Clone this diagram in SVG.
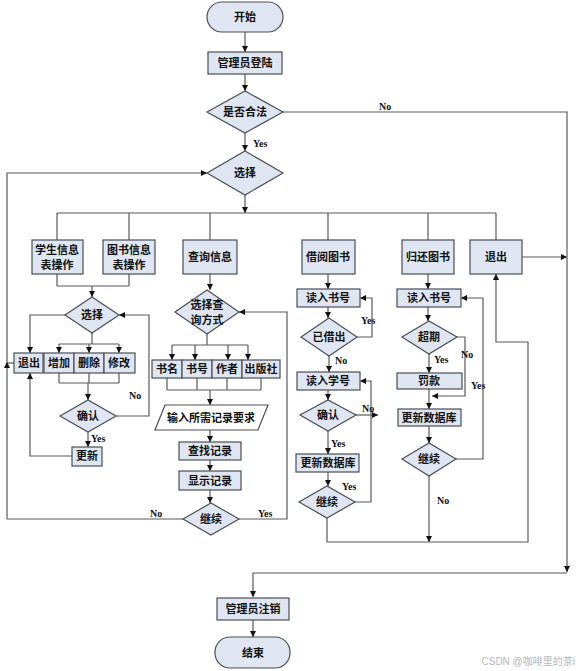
<svg xmlns="http://www.w3.org/2000/svg" width="581" height="671" viewBox="0 0 581 671">
<defs>
<marker id="ah" markerWidth="6" markerHeight="6" refX="6" refY="3" orient="auto" markerUnits="userSpaceOnUse">
<path d="M0,0 L6,3 L0,6 z" fill="#111"/>
</marker>
<style>
.b{fill:#dfe6f1;stroke:#4a4f58;stroke-width:1.2}
.p{fill:#fff;stroke:#4a4f58;stroke-width:1.2}
.t{font-family:"Liberation Serif","Noto Sans CJK SC",serif;font-size:11px;font-weight:bold;fill:#111;text-anchor:middle;dominant-baseline:central}
.l{font-family:"Liberation Serif",serif;font-size:10px;font-weight:bold;fill:#111}
.c path{fill:none;stroke:#5a5a5a;stroke-width:1.2}
.c .a{marker-end:url(#ah)}
</style>
</defs>
<rect width="581" height="671" fill="#fff"/>

<g class="c" id="connectors">
<path class="a" d="M245,32 V52"/>
<path class="a" d="M245,74 V91"/>
<path class="a" d="M245,133 V151"/>
<path class="a" d="M245,195 V213"/>
<path d="M57,213 H496"/>
<path d="M57,213 V240 M129,213 V240 M210,213 V240 M328,213 V240 M428,213 V240 M496,213 V240"/>
<!-- left subflow -->
<path d="M57,274 V286 M129,274 V286 M57,286 H129"/>
<path class="a" d="M92,286 V297"/>
<path class="a" d="M65,315 H30 V353"/>
<path d="M92,333 V344 M59,344 H119"/>
<path class="a" d="M59,344 V353"/>
<path class="a" d="M89,344 V353"/>
<path class="a" d="M119,344 V353"/>
<path d="M59,373 V383 M89,373 V383 M119,373 V383 M59,383 H119"/>
<path class="a" d="M88,383 V400"/>
<path class="a" d="M116,416 H149 V315 H119"/>
<path class="a" d="M88,432 V447"/>
<path class="a" d="M72,456 H30 V373"/>
<path d="M14,363 H7"/>
<path class="a" d="M183,519 H7 V362"/>
<path class="a" d="M7,363 V173 H207"/>
<!-- query -->
<path class="a" d="M210,274 V290"/>
<path d="M207,334 V345 M172,345 H248"/>
<path class="a" d="M172,345 V360"/>
<path class="a" d="M195,345 V360"/>
<path class="a" d="M228,345 V360"/>
<path class="a" d="M248,345 V360"/>
<path d="M167,378 V390 M197,378 V390 M227,378 V390 M261,378 V390 M167,390 H261"/>
<path class="a" d="M210,390 V405"/>
<path class="a" d="M210,430 V442"/>
<path class="a" d="M210,460 V471"/>
<path class="a" d="M210,490 V503"/>
<path class="a" d="M239,519 H287 V312 H239"/>
<!-- borrow -->
<path class="a" d="M328,274 V289"/>
<path class="a" d="M328,307 V318"/>
<path class="a" d="M357,337 H372 V298 H360"/>
<path class="a" d="M329,356 V372"/>
<path class="a" d="M328,390 V400"/>
<path class="a" d="M356,415 H378"/>
<path class="a" d="M355,502 H371 V381 H360"/>
<path class="a" d="M328,431 V454"/>
<path class="a" d="M328,472 V486"/>
<path class="a" d="M327,518 V542 H528 V342 H496 V274"/>
<!-- return -->
<path class="a" d="M428,274 V289"/>
<path class="a" d="M428,307 V321"/>
<path class="a" d="M457,337 H465 V396 H432"/>
<path class="a" d="M429,354 V373"/>
<path class="a" d="M429,389 V409"/>
<path class="a" d="M429,426 V443"/>
<path class="a" d="M456,459 H483 V298 H461"/>
<path class="a" d="M429,476 V542"/>
<!-- exit / end -->
<path class="a" d="M522,257 H567"/>
<path class="a" d="M283,112 H567 V572"/>
<path class="a" d="M567,573 H253 V597"/>
<path class="a" d="M253,620 V637"/>
</g>

<g id="labels">
<text class="l" x="253" y="147">Yes</text>
<text class="l" x="379" y="110">No</text>
<text class="l" x="129" y="399">No</text>
<text class="l" x="91" y="442">Yes</text>
<text class="l" x="150" y="517">No</text>
<text class="l" x="258" y="517">Yes</text>
<text class="l" x="361" y="324">Yes</text>
<text class="l" x="335" y="364">No</text>
<text class="l" x="362" y="412">No</text>
<text class="l" x="331" y="447">Yes</text>
<text class="l" x="342" y="490">Yes</text>
<text class="l" x="434" y="363">Yes</text>
<text class="l" x="461" y="358">No</text>
<text class="l" x="471" y="389">Yes</text>
<text class="l" x="437" y="504">No</text>
</g>

<g id="start"><rect class="b" x="207" y="2" width="76" height="30" rx="15"/><text class="t" x="245" y="17">开始</text></g>
<g id="login"><rect class="b" x="208" y="52" width="74" height="22"/><text class="t" x="245" y="63">管理员登陆</text></g>
<g id="legal"><polygon class="b" points="207,112 245,91 283,112 245,133"/><text class="t" x="245" y="112">是否合法</text></g>
<g id="select"><polygon class="b" points="207,173 245,151 283,173 245,195"/><text class="t" x="245" y="173">选择</text></g>

<g id="student"><rect class="b" x="32" y="240" width="51" height="34"/><text class="t" x="57" y="250">学生信息</text><text class="t" x="57" y="265">表操作</text></g>
<g id="bookinfo"><rect class="b" x="103" y="240" width="52" height="34"/><text class="t" x="129" y="250">图书信息</text><text class="t" x="129" y="265">表操作</text></g>
<g id="sel2"><polygon class="b" points="65,315 92,297 119,315 92,333"/><text class="t" x="92" y="315">选择</text></g>
<g id="exit2"><rect class="b" x="14" y="353" width="29" height="20"/><text class="t" x="29" y="363">退出</text></g>
<g id="add"><rect class="b" x="44" y="353" width="30" height="20"/><text class="t" x="59" y="363">增加</text></g>
<g id="del"><rect class="b" x="74" y="353" width="30" height="20"/><text class="t" x="89" y="363">删除</text></g>
<g id="mod"><rect class="b" x="104" y="353" width="31" height="20"/><text class="t" x="119" y="363">修改</text></g>
<g id="confirm1"><polygon class="b" points="60,416 88,400 116,416 88,432"/><text class="t" x="88" y="416">确认</text></g>
<g id="update1"><rect class="b" x="72" y="447" width="30" height="19"/><text class="t" x="87" y="456">更新</text></g>

<g id="query"><rect class="b" x="183" y="240" width="54" height="34"/><text class="t" x="210" y="257">查询信息</text></g>
<g id="qmode"><polygon class="b" points="175,312 207,290 239,312 207,334"/><text class="t" x="207" y="305">选择查</text><text class="t" x="207" y="320">询方式</text></g>
<g id="bname"><rect class="b" x="152" y="360" width="30" height="18"/><text class="t" x="167" y="369">书名</text></g>
<g id="bno"><rect class="b" x="182" y="360" width="30" height="18"/><text class="t" x="197" y="369">书号</text></g>
<g id="author"><rect class="b" x="212" y="360" width="30" height="18"/><text class="t" x="227" y="369">作者</text></g>
<g id="pub"><rect class="b" x="242" y="360" width="38" height="18"/><text class="t" x="261" y="369">出版社</text></g>
<g id="input"><polygon class="p" points="165,405 268,405 258,430 155,430"/><text class="t" x="211" y="418">输入所需记录要求</text></g>
<g id="find"><rect class="b" x="179" y="442" width="62" height="18"/><text class="t" x="210" y="451">查找记录</text></g>
<g id="show"><rect class="b" x="179" y="471" width="62" height="19"/><text class="t" x="210" y="481">显示记录</text></g>
<g id="cont1"><polygon class="b" points="183,519 211,503 239,519 211,535"/><text class="t" x="211" y="519">继续</text></g>

<g id="borrow"><rect class="b" x="302" y="240" width="53" height="34"/><text class="t" x="328" y="257">借阅图书</text></g>
<g id="readbook1"><rect class="b" x="297" y="289" width="63" height="18"/><text class="t" x="328" y="298">读入书号</text></g>
<g id="lent"><polygon class="b" points="301,337 329,318 357,337 329,356"/><text class="t" x="329" y="337">已借出</text></g>
<g id="readstu"><rect class="b" x="297" y="372" width="63" height="18"/><text class="t" x="328" y="381">读入学号</text></g>
<g id="confirm2"><polygon class="b" points="300,415 328,400 356,415 328,431"/><text class="t" x="328" y="415">确认</text></g>
<g id="updb1"><rect class="b" x="296" y="454" width="63" height="18"/><text class="t" x="328" y="463">更新数据库</text></g>
<g id="cont2"><polygon class="b" points="299,502 327,486 355,502 327,518"/><text class="t" x="327" y="502">继续</text></g>

<g id="return"><rect class="b" x="402" y="240" width="52" height="34"/><text class="t" x="428" y="257">归还图书</text></g>
<g id="readbook2"><rect class="b" x="397" y="289" width="64" height="18"/><text class="t" x="429" y="298">读入书号</text></g>
<g id="overdue"><polygon class="b" points="402,337 429,321 457,337 429,354"/><text class="t" x="429" y="337">超期</text></g>
<g id="fine"><rect class="b" x="397" y="373" width="65" height="16"/><text class="t" x="429" y="381">罚款</text></g>
<g id="updb2"><rect class="b" x="398" y="409" width="63" height="17"/><text class="t" x="429" y="418">更新数据库</text></g>
<g id="cont3"><polygon class="b" points="402,459 429,443 456,459 429,476"/><text class="t" x="429" y="459">继续</text></g>

<g id="exit"><rect class="b" x="470" y="240" width="52" height="34"/><text class="t" x="496" y="257">退出</text></g>
<g id="logout"><rect class="b" x="217" y="598" width="72" height="22"/><text class="t" x="253" y="609">管理员注销</text></g>
<g id="end"><rect class="b" x="215" y="637" width="75" height="31" rx="15"/><text class="t" x="253" y="653">结束</text></g>

<text x="575" y="665" font-family="'Liberation Sans','Noto Sans CJK SC',sans-serif" font-size="10" fill="#b8b8b8" text-anchor="end">CSDN @咖啡里的茶i</text>
</svg>
